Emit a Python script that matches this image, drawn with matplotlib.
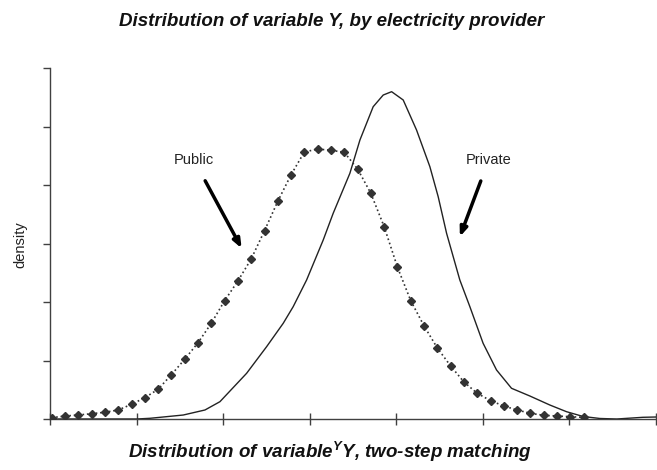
import matplotlib
matplotlib.use("Agg")
import matplotlib.pyplot as plt

# ---- data (x in axis-tick units 0..7, y in axis-tick units 0..6) ----
public_x = [0.020, 0.174, 0.327, 0.481, 0.634, 0.788, 0.942, 1.095, 1.249, 1.402,
            1.556, 1.710, 1.863, 2.017, 2.170, 2.324, 2.478, 2.631, 2.785, 2.938,
            3.092, 3.246, 3.399, 3.553, 3.706, 3.860, 4.014, 4.167, 4.321, 4.474,
            4.628, 4.782, 4.935, 5.089, 5.242, 5.396, 5.550, 5.703, 5.857, 6.010,
            6.164]
public_y = [0.022, 0.051, 0.068, 0.091, 0.115, 0.154, 0.251, 0.364, 0.508, 0.757,
            1.021, 1.304, 1.636, 2.022, 2.359, 2.735, 3.219, 3.721, 4.176, 4.564,
            4.615, 4.593, 4.559, 4.274, 3.858, 3.287, 2.593, 2.022, 1.590, 1.214,
            0.906, 0.632, 0.439, 0.313, 0.222, 0.154, 0.097, 0.063, 0.051, 0.039,
            0.029]

private_x = [0.0, 0.497, 1.0, 1.155, 1.539, 1.790, 1.963, 2.271, 2.502, 2.694,
             2.809, 2.964, 3.156, 3.271, 3.464, 3.580, 3.733, 3.849, 3.946, 4.080,
             4.234, 4.388, 4.484, 4.581, 4.734, 4.850, 5.003, 5.158, 5.331, 5.543,
             5.774, 5.966, 6.158, 6.351, 6.547, 6.848, 7.0]
private_y = [0.0, 0.0, 0.0, 0.012, 0.068, 0.154, 0.296, 0.781, 1.236, 1.636,
             1.920, 2.376, 3.060, 3.516, 4.200, 4.769, 5.338, 5.538, 5.595, 5.453,
             4.940, 4.313, 3.800, 3.174, 2.376, 1.920, 1.294, 0.838, 0.525, 0.393,
             0.239, 0.125, 0.043, 0.009, 0.0, 0.029, 0.034]

x_ticks = [0, 1, 2, 3, 4, 5, 6, 7]
y_ticks = [0, 1, 2, 3, 4, 5, 6]

title_text = "Distribution of variable Y, by electricity provider"
xlabel_text = r"Distribution of variable$^{Y}$Y, two-step matching"
ylabel_text = "density"

plt.rcParams['font.family'] = ['Liberation Sans', 'DejaVu Sans']
plt.rcParams['mathtext.fontset'] = 'custom'
plt.rcParams['mathtext.rm'] = 'Liberation Sans:italic:bold'
plt.rcParams['mathtext.it'] = 'Liberation Sans:italic:bold'
plt.rcParams['mathtext.bf'] = 'Liberation Sans:italic:bold'
plt.rcParams['mathtext.default'] = 'rm'

fig = plt.figure(figsize=(6.57, 4.70), dpi=100)
ax = fig.add_axes([50/657, 1-419/470, 606/657, 351/470])

ax.plot(public_x, public_y, linestyle=':', color='#333333', lw=1.2,
        marker='D', markersize=4.0, markerfacecolor='#333333',
        markeredgecolor='#333333', zorder=3)
ax.plot(private_x, private_y, linestyle='-', color='#222222', lw=1.0, zorder=2)

ax.set_xlim(0, 7)
ax.set_ylim(0, 6)
ax.set_xticks(x_ticks)
ax.set_yticks(y_ticks)
ax.set_xticklabels([])
ax.set_yticklabels([])
ax.tick_params(axis='x', direction='inout', length=8, width=1, color='#404040')
ax.tick_params(axis='y', direction='out', length=5, width=1, color='#404040')
for s in ['top', 'right']:
    ax.spines[s].set_visible(False)
for s in ['left', 'bottom']:
    ax.spines[s].set_color('#404040')
    ax.spines[s].set_linewidth(1.0)
    ax.spines[s].set_clip_on(False)

fig.text(332/657, 1-21/470, title_text, ha='center', va='center',
         fontsize=13.5, fontweight='bold', fontstyle='italic', color='#111111')
fig.text(330/657, 1-452/470, xlabel_text, ha='center', va='center',
         fontsize=13.5, fontweight='bold', fontstyle='italic', color='#111111')
fig.text(20/657, 1-245/470, ylabel_text, ha='center', va='center',
         rotation=90, fontsize=10.5, color='#222222')

def px(xp, yp):
    return ((xp - 50) / 86.6, (419 - yp) / 58.5)

ax.annotate("Public", xy=px(241.7, 248.3), xytext=px(194, 160),
            ha='center', va='center', fontsize=10.5, color='#222222',
            arrowprops=dict(arrowstyle='-|>,head_length=0.5,head_width=0.2',
                            lw=2.5, color='black', shrinkA=9, shrinkB=0))
ax.annotate("Private", xy=px(460, 236.7), xytext=px(489, 159.5),
            ha='center', va='center', fontsize=10.5, color='#222222',
            arrowprops=dict(arrowstyle='-|>,head_length=0.5,head_width=0.2',
                            lw=2.5, color='black', shrinkA=9, shrinkB=0))

fig.savefig("out.png", dpi=100)
